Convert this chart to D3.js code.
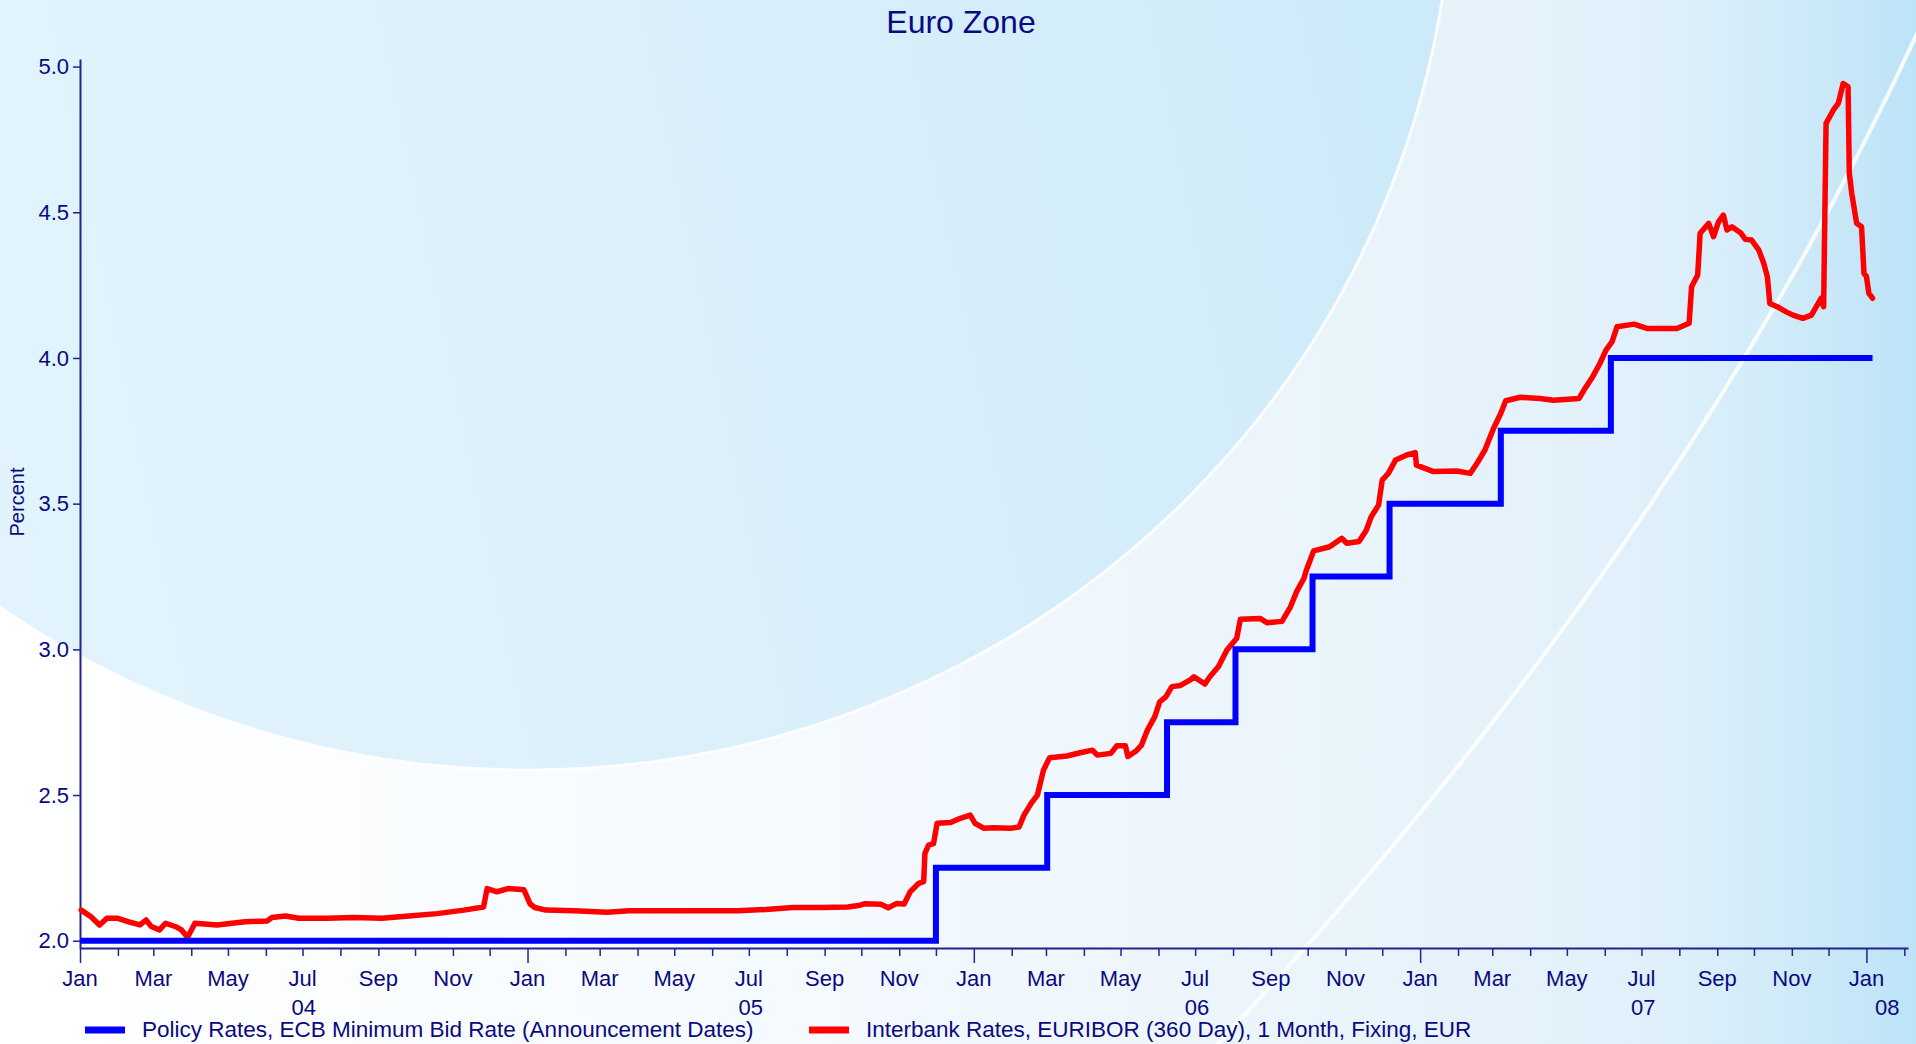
<!DOCTYPE html>
<html><head><meta charset="utf-8">
<script src="https://cdn.jsdelivr.net/npm/d3@7"></script>
<style>
html,body{margin:0;padding:0;overflow:hidden;background:#fff}
svg{display:block}
text{font-family:"Liberation Sans",Arial,Helvetica,sans-serif}
</style>
</head><body>
<svg id="chart" width="1916" height="1044"></svg>
<script>
// ---------------- DATA ----------------
const chartTitle = "Euro Zone";
const yAxisTitle = "Percent";
const seriesNames = [
  "Policy Rates, ECB Minimum Bid Rate (Announcement Dates)",
  "Interbank Rates, EURIBOR (360 Day), 1 Month, Fixing, EUR"
];
const yTickValues = [2.0, 2.5, 3.0, 3.5, 4.0, 4.5, 5.0];
const monthNames = ["Jan","Feb","Mar","Apr","May","Jun","Jul","Aug","Sep","Oct","Nov","Dec"];
const xDomain = ["2004-01-01", "2008-02-04"];
const yDomain = [1.975, 5.026];

const policyDates  = ["2004-01-01","2005-12-01","2006-03-02","2006-06-08","2006-08-03","2006-10-05","2006-12-07","2007-03-08","2007-06-06","2008-01-06"];
const policyValues = [2.00, 2.25, 2.50, 2.75, 3.00, 3.25, 3.50, 3.75, 4.00, 4.00];

const euriborDates = [
  "2004-01-02","2004-01-10","2004-01-17","2004-01-23","2004-02-01","2004-02-10","2004-02-19","2004-02-24","2004-02-28",
  "2004-03-06","2004-03-11","2004-03-20","2004-03-24","2004-03-29","2004-04-04","2004-04-22","2004-05-15","2004-06-02",
  "2004-06-06","2004-06-17","2004-06-28","2004-07-21","2004-08-12","2004-09-04","2004-09-26","2004-10-19","2004-11-10",
  "2004-11-26","2004-11-29","2004-12-07","2004-12-16","2004-12-29",
  "2005-01-03","2005-01-07","2005-01-16","2005-02-08","2005-03-07","2005-03-25","2005-05-09","2005-06-22","2005-07-15",
  "2005-08-06","2005-08-29","2005-09-20","2005-09-30","2005-10-04","2005-10-17","2005-10-23","2005-10-30","2005-11-05",
  "2005-11-10","2005-11-17","2005-11-21","2005-11-22","2005-11-25","2005-11-29","2005-12-02","2005-12-13","2005-12-21",
  "2005-12-29",
  "2006-01-02","2006-01-09","2006-01-17","2006-01-31","2006-02-07","2006-02-11","2006-02-17","2006-02-22","2006-02-27",
  "2006-03-04","2006-03-18","2006-03-29","2006-04-08","2006-04-12","2006-04-23","2006-04-28","2006-05-05","2006-05-07",
  "2006-05-14","2006-05-18","2006-05-23","2006-05-29","2006-06-02","2006-06-07","2006-06-12","2006-06-19","2006-06-27",
  "2006-06-30","2006-07-09","2006-07-13","2006-07-20","2006-07-27","2006-08-04","2006-08-07","2006-08-23","2006-08-29",
  "2006-09-10","2006-09-17","2006-09-22","2006-09-28","2006-09-30","2006-10-06","2006-10-19","2006-10-29","2006-11-02",
  "2006-11-12","2006-11-18","2006-11-22","2006-11-28","2006-12-01","2006-12-06","2006-12-12","2006-12-21","2006-12-28",
  "2006-12-29",
  "2007-01-12","2007-01-31","2007-02-11","2007-02-16","2007-02-23","2007-03-02","2007-03-08","2007-03-12","2007-03-24",
  "2007-04-09","2007-04-20","2007-05-11","2007-05-15","2007-05-22","2007-05-28","2007-06-02","2007-06-07","2007-06-11",
  "2007-06-25","2007-07-06","2007-07-30","2007-08-09","2007-08-11","2007-08-16","2007-08-18","2007-08-25","2007-08-29",
  "2007-09-02","2007-09-06","2007-09-09","2007-09-13","2007-09-20","2007-09-24","2007-09-29","2007-10-05","2007-10-09",
  "2007-10-12","2007-10-14","2007-10-20","2007-10-27","2007-11-02","2007-11-10","2007-11-17","2007-11-21","2007-11-25",
  "2007-11-27","2007-11-29","2007-12-05","2007-12-09","2007-12-13","2007-12-17","2007-12-18","2007-12-20","2007-12-24",
  "2007-12-28","2007-12-30",
  "2008-01-01","2008-01-03","2008-01-06"
];
const euriborValues = [
  2.105,2.082,2.054,2.077,2.077,2.065,2.054,2.071,2.050,
  2.037,2.060,2.047,2.037,2.012,2.060,2.054,2.065,2.068,
  2.080,2.085,2.077,2.077,2.080,2.077,2.085,2.093,2.105,
  2.116,2.179,2.168,2.179,2.175,
  2.127,2.114,2.105,2.103,2.098,2.103,2.103,2.103,2.107,
  2.114,2.114,2.116,2.122,2.127,2.125,2.113,2.128,2.126,
  2.168,2.197,2.203,2.300,2.328,2.333,2.403,2.406,2.420,
  2.431,
  2.403,2.386,2.388,2.386,2.390,2.431,2.472,2.500,2.586,
  2.628,2.634,2.645,2.654,2.637,2.643,2.669,2.669,2.632,
  2.652,2.670,2.723,2.769,2.820,2.837,2.872,2.876,2.895,
  2.906,2.881,2.906,2.940,2.998,3.038,3.103,3.106,3.091,
  3.096,3.146,3.198,3.244,3.272,3.338,3.352,3.381,3.364,
  3.370,3.409,3.455,3.495,3.581,3.604,3.650,3.667,3.675,
  3.632,
  3.610,3.612,3.604,3.635,3.684,3.758,3.810,3.853,3.865,
  3.861,3.855,3.861,3.890,3.935,3.981,4.027,4.056,4.107,
  4.116,4.101,4.101,4.119,4.244,4.285,4.428,4.462,4.416,
  4.467,4.490,4.439,4.450,4.430,4.407,4.405,4.370,4.325,
  4.279,4.187,4.176,4.159,4.147,4.136,4.147,4.176,4.205,
  4.176,4.805,4.851,4.874,4.942,4.931,4.634,4.565,4.462,
  4.450,4.290,
  4.280,4.222,4.205
];

// ---------------- STYLE ----------------
const W = 1916, H = 1044;
const navy = "#0a0a80";
const axisColor = "#23238c";
const blue = "#0000ff";
const red = "#ff0000";
const parse = d3.utcParse("%Y-%m-%d");

const svg = d3.select("#chart");
const defs = svg.append("defs");

// Background gradients
const bgGrad = defs.append("linearGradient").attr("id","bgGrad").attr("x1","0").attr("x2","1").attr("y1","0").attr("y2","0");
[["0%","#ffffff"],["40%","#f5fafe"],["70%","#eaf4fb"],["86%","#e0f0fa"],["92%","#d3ecf9"],["100%","#bde3f7"]]
  .forEach(s=>bgGrad.append("stop").attr("offset",s[0]).attr("stop-color",s[1]));
const ellGrad = defs.append("linearGradient").attr("id","ellGrad").attr("x1","0").attr("x2","1").attr("y1","0.2").attr("y2","0");
[["0%","#e3f4fd"],["40%","#dcf0fb"],["75%","#d2ecfa"],["100%","#c6e7f8"]]
  .forEach(s=>ellGrad.append("stop").attr("offset",s[0]).attr("stop-color",s[1]));

svg.append("rect").attr("width",W).attr("height",H).attr("fill","url(#bgGrad)");
// big ellipse
svg.append("ellipse").attr("cx",528).attr("cy",-140).attr("rx",925).attr("ry",910)
  .attr("fill","url(#ellGrad)").attr("stroke","#ffffff").attr("stroke-width",3).attr("stroke-opacity",0.85);
// second white arc
svg.append("path").attr("d","M1930,5 Q1690,540 1212,1050")
  .attr("fill","none").attr("stroke","#ffffff").attr("stroke-width",4).attr("opacity",0.85);

// ---------------- SCALES ----------------
const x = d3.scaleUtc().domain(xDomain.map(parse)).range([80, 1908]);
const y = d3.scaleLinear().domain(yDomain).range([948, 59]);

// ---------------- AXES ----------------
const yAxis = d3.axisLeft(y).tickValues(yTickValues).tickFormat(d3.format(".1f"))
  .tickSizeInner(7).tickSizeOuter(0).tickPadding(4);
const gy = svg.append("g").attr("transform","translate(80,0)").call(yAxis);
gy.select(".domain").attr("stroke",axisColor).attr("stroke-width",2);
gy.selectAll(".tick line").attr("stroke",axisColor).attr("stroke-width",1.5);
gy.selectAll(".tick text").attr("fill",navy).attr("font-size",22)
  .attr("font-family","'Liberation Sans',Arial,sans-serif");

const months = d3.utcMonth.range(x.domain()[0], x.domain()[1]);
const xAxis = d3.axisBottom(x).tickValues(months).tickFormat("").tickSizeInner(8).tickSizeOuter(0);
const gx = svg.append("g").attr("transform","translate(0,948)").call(xAxis);
gx.select(".domain").attr("stroke",axisColor).attr("stroke-width",2);
gx.selectAll(".tick line").attr("stroke",axisColor).attr("stroke-width",1.5)
  .attr("y2", d => d.getUTCMonth() === 0 ? 15 : 8);

// month labels
svg.append("g").selectAll("text")
  .data(months.filter(d => d.getUTCMonth() % 2 === 0))
  .join("text")
  .attr("x", d => x(d)).attr("y", 986)
  .attr("text-anchor","middle").attr("font-size",22).attr("fill",navy)
  .text(d => monthNames[d.getUTCMonth()]);

// year labels centered in visible part of each year
const years = d3.utcYear.range(d3.utcYear.floor(x.domain()[0]), x.domain()[1]);
svg.append("g").selectAll("text")
  .data(years)
  .join("text")
  .attr("x", d => {
    const a = d3.max([d, x.domain()[0]]);
    const b = d3.min([d3.utcYear.offset(d,1), x.domain()[1]]);
    return (x(a) + x(b)) / 2;
  })
  .attr("y", 1015)
  .attr("text-anchor","middle").attr("font-size",22).attr("fill",navy)
  .text(d => d3.utcFormat("%y")(d));

// y axis title
svg.append("text").attr("transform","translate(24,502) rotate(-90)")
  .attr("text-anchor","middle").attr("font-size",20).attr("fill",navy).text(yAxisTitle);

// title
svg.append("text").attr("x",961).attr("y",33).attr("text-anchor","middle")
  .attr("font-size",32).attr("fill",navy).text(chartTitle);

// ---------------- SERIES ----------------
const policy = policyDates.map((d,i)=>({date:parse(d), value:policyValues[i]}));
const euribor = euriborDates.map((d,i)=>({date:parse(d), value:euriborValues[i]}));

svg.append("path").datum(euribor)
  .attr("fill","none").attr("stroke",red).attr("stroke-width",5.5)
  .attr("stroke-linejoin","round").attr("stroke-linecap","round")
  .attr("d", d3.line().x(d=>x(d.date)).y(d=>y(d.value)));

svg.append("path").datum(policy)
  .attr("fill","none").attr("stroke",blue).attr("stroke-width",6)
  .attr("stroke-linejoin","miter")
  .attr("d", d3.line().curve(d3.curveStepAfter).x(d=>x(d.date)).y(d=>y(d.value)));

// ---------------- LEGEND ----------------
const legendItems = [
  {name: seriesNames[0], color: blue, x0: 85},
  {name: seriesNames[1], color: red, x0: 809}
];
const lg = svg.append("g");
legendItems.forEach(it => {
  lg.append("line").attr("x1",it.x0).attr("x2",it.x0+40).attr("y1",1030).attr("y2",1030)
    .attr("stroke",it.color).attr("stroke-width",7);
  lg.append("text").attr("x",it.x0+57).attr("y",1037).attr("font-size",22.5).attr("fill",navy).text(it.name);
});
</script>
</body></html>
